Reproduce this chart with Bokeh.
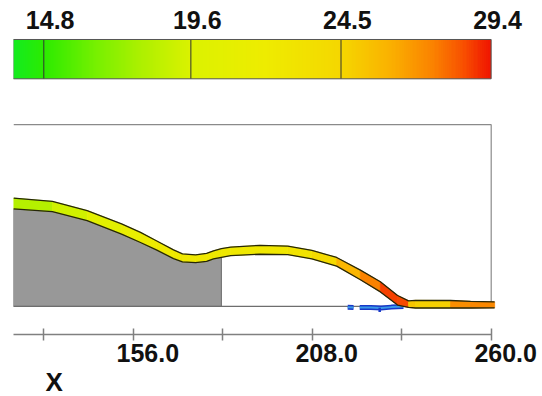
import numpy as np
from bokeh.plotting import figure
from bokeh.models import (Range1d, LinearAxis, FixedTicker, NumeralTickFormatter,
                          LinearColorMapper, ColumnDataSource, Title)
from bokeh.transform import linear_cmap
from bokeh.layouts import column
from bokeh.embed import file_html
from bokeh.resources import INLINE

# ---------------- data ----------------
cbar_low = 13.8
cbar_high = 29.4
cbar_ticks = [14.8, 19.6, 24.5, 29.4]

x_ticks = [130, 156, 182, 208, 234, 260]
x_labeled = [156, 208, 260]
x_title = "X"

domain_x = [121.2, 260.0]
domain_top = 52.1

band_x = [121.2, 132.5, 142.6, 152.6, 158.1, 162.7, 167.7, 170.3, 174.1, 177.3,
          179.3, 181.6, 184.3, 192.8, 200.9, 207.9, 215.1, 222.0, 227.8, 232.8,
          236.0, 238.0, 248.2, 254.0, 261.0]
band_top = [31.06, 30.10, 27.49, 23.65, 21.24, 18.83, 16.21, 15.05, 14.76, 15.20,
            15.92, 16.56, 17.00, 17.52, 17.29, 16.07, 14.03, 10.40, 7.06, 3.14,
            1.60, 1.75, 1.70, 1.45, 1.30]
band_bot = [27.98, 27.20, 24.61, 20.75, 18.33, 16.21, 13.71, 12.79, 12.58, 12.93,
            13.60, 14.09, 14.56, 14.96, 14.85, 13.63, 11.56, 7.64, 4.16, 0.38,
            -0.30, -0.45, -0.45, -0.45, -0.40]
band_val = [17.8, 18.6, 19.8, 21.0, 21.6, 22.0, 22.3, 22.5, 22.5, 22.5,
            22.5, 22.5, 22.5, 22.5, 22.7, 23.4, 25.0, 26.8, 28.2, 29.2,
            28.0, 22.5, 27.0, 27.2, 27.4]

grey_x = [121.2, 132.5, 142.6, 152.6, 158.1, 162.7, 167.7, 170.3, 174.1, 177.3,
          179.3, 181.6, 181.6, 121.2]
grey_y = [27.98, 27.20, 24.61, 20.75, 18.33, 16.21, 13.71, 12.79, 12.58, 12.93,
          13.60, 14.09, 0.0, 0.0]

streak_xs = [[218.3, 220.0], [221.8, 225.0, 228.0, 231.0, 234.5]]
streak_ys = [[-0.25, -0.3], [-0.3, -0.3, -0.45, -0.2, -0.05]]
blip_x = [227.6, 227.6]
blip_y = [-0.4, -1.6]

# ---------------- colour map ----------------
anchor_v = [13.8, 14.8, 16.5, 18.0, 19.6, 22.0, 24.5, 26.0, 27.5, 28.5, 29.4]
anchor_rgb = [(20, 235, 30), (45, 235, 0), (120, 240, 0), (175, 240, 0), (220, 242, 0),
              (238, 236, 0), (245, 215, 0), (250, 180, 0), (250, 130, 0), (248, 80, 0),
              (240, 20, 0)]
vv = np.linspace(cbar_low, cbar_high, 256)
chan = [np.interp(vv, anchor_v, [c[k] for c in anchor_rgb]) for k in range(3)]
palette = ["#%02x%02x%02x" % (int(round(r)), int(round(g)), int(round(b)))
           for r, g, b in zip(*chan)]
mapper = LinearColorMapper(palette=palette, low=cbar_low, high=cbar_high)

FONT = "Liberation Sans"

# ---------------- colour bar figure ----------------
c_scale = 30.64
c_lo = cbar_ticks[0] - (43.3 - 13) / c_scale
c_hi = cbar_ticks[0] + (535 - 43.3) / c_scale
p1 = figure(width=542, height=96, x_range=Range1d(c_lo, c_hi), y_range=Range1d(-0.45, 1.0254),
            output_backend="svg", toolbar_location=None, x_axis_location=None,
            y_axis_location=None, min_border=0, min_border_left=13, min_border_right=7,
            min_border_top=38, min_border_bottom=0, outline_line_color=None)
p1.grid.visible = False
grad = np.linspace(cbar_low, cbar_high, 600)[None, :]
p1.image(image=[grad], x=cbar_low, y=0, dw=cbar_high - cbar_low, dh=1, color_mapper=mapper)
p1.segment(x0=cbar_ticks[:-1], y0=0, x1=cbar_ticks[:-1], y1=1, line_color="#333333", line_width=1)
p1.quad(left=cbar_low, right=cbar_high, bottom=0, top=1, fill_color=None,
        line_color="#555555", line_width=1)
c_shift = 6.4 / c_scale
p1.extra_x_ranges = {"lab": Range1d(c_lo - c_shift, c_hi - c_shift)}
cax = LinearAxis(x_range_name="lab", ticker=FixedTicker(ticks=cbar_ticks),
                 formatter=NumeralTickFormatter(format="0.0"),
                 axis_line_color=None, major_tick_line_color=None, minor_tick_line_color=None,
                 major_tick_in=0, major_tick_out=0, major_label_standoff=10,
                 major_label_text_font=FONT, major_label_text_font_style="bold",
                 major_label_text_font_size="25px", major_label_text_color="#111111")
p1.add_layout(cax, "above")

# ---------------- main figure ----------------
s = 3.4415
x_lo = 130 - (43.3 - 13) / s
x_hi = 130 + (535 - 43.3) / s
y_lo = -(331 - 303.3) / s
y_hi = (303.3 - 110) / s
p2 = figure(width=542, height=300, x_range=Range1d(x_lo, x_hi), y_range=Range1d(y_lo, y_hi),
            output_backend="svg", toolbar_location=None, x_axis_location=None,
            y_axis_location=None, min_border=0, min_border_left=13, min_border_right=7,
            min_border_top=14, min_border_bottom=0, outline_line_color=None)
p2.grid.visible = False

# grey solid
p2.patch(grey_x, grey_y, fill_color="#989898", line_color="#6a6a6a", line_width=1)

# domain box
p2.line([domain_x[0], domain_x[1], domain_x[1]], [domain_top, domain_top, 0],
        line_color="#8a8a8a", line_width=1.2)
p2.line([domain_x[0], domain_x[1]], [0, 0], line_color="#6e6e6e", line_width=1.2)

# blue streak
p2.multi_line(streak_xs, streak_ys, line_color="#1838c8", line_width=5)
p2.multi_line(streak_xs, streak_ys, line_color="#3a9ae8", line_width=2)
p2.line(blip_x, blip_y, line_color="#1838c8", line_width=2.5)

# band made of quads coloured by value
n = len(band_x)
src = ColumnDataSource(dict(
    xs=[[band_x[i], band_x[i + 1], band_x[i + 1], band_x[i]] for i in range(n - 1)],
    ys=[[band_top[i], band_top[i + 1], band_bot[i + 1], band_bot[i]] for i in range(n - 1)],
    val=[(band_val[i] + band_val[i + 1]) / 2 for i in range(n - 1)],
))
cm = linear_cmap("val", palette, cbar_low, cbar_high)
p2.patches("xs", "ys", source=src, fill_color=cm, line_color=cm, line_width=0.8)
p2.line(band_x, band_top, line_color="#262608", line_width=1.3)
p2.line(band_x, band_bot, line_color="#262608", line_width=1.3)

# tick axis: ticks only (as minor ticks, so no label texts are produced)
ax1 = LinearAxis(ticker=FixedTicker(ticks=[], minor_ticks=x_ticks),
                 bounds=(domain_x[0], domain_x[1]),
                 major_tick_in=0, major_tick_out=0, major_tick_line_color=None,
                 minor_tick_in=6, minor_tick_out=6,
                 minor_tick_line_color="#808080", minor_tick_line_width=1.5,
                 major_label_standoff=0,
                 axis_line_color="#808080", axis_line_width=1.5)
p2.add_layout(ax1, "below")

# label axis (labels sit slightly right of their ticks)
x_shift = 14.5 / s
p2.extra_x_ranges = {"lab": Range1d(x_lo - x_shift, x_hi - x_shift)}
ax2 = LinearAxis(x_range_name="lab", ticker=FixedTicker(ticks=x_labeled),
                 formatter=NumeralTickFormatter(format="0.0"),
                 axis_line_color=None, major_tick_line_color=None, minor_tick_line_color=None,
                 major_tick_in=0, major_tick_out=0, major_label_standoff=3,
                 major_label_text_font=FONT, major_label_text_font_style="bold",
                 major_label_text_font_size="25px", major_label_text_color="#111111")
p2.add_layout(ax2, "below")

# axis title "X" near the left
p2.add_layout(Title(text=x_title, align="left", offset=32, standoff=0,
                    text_font=FONT, text_font_style="bold", text_font_size="26px",
                    text_color="#111111"), "below")

layout = column(p1, p2, spacing=0)
open("out.html", "w").write(file_html(layout, INLINE))
